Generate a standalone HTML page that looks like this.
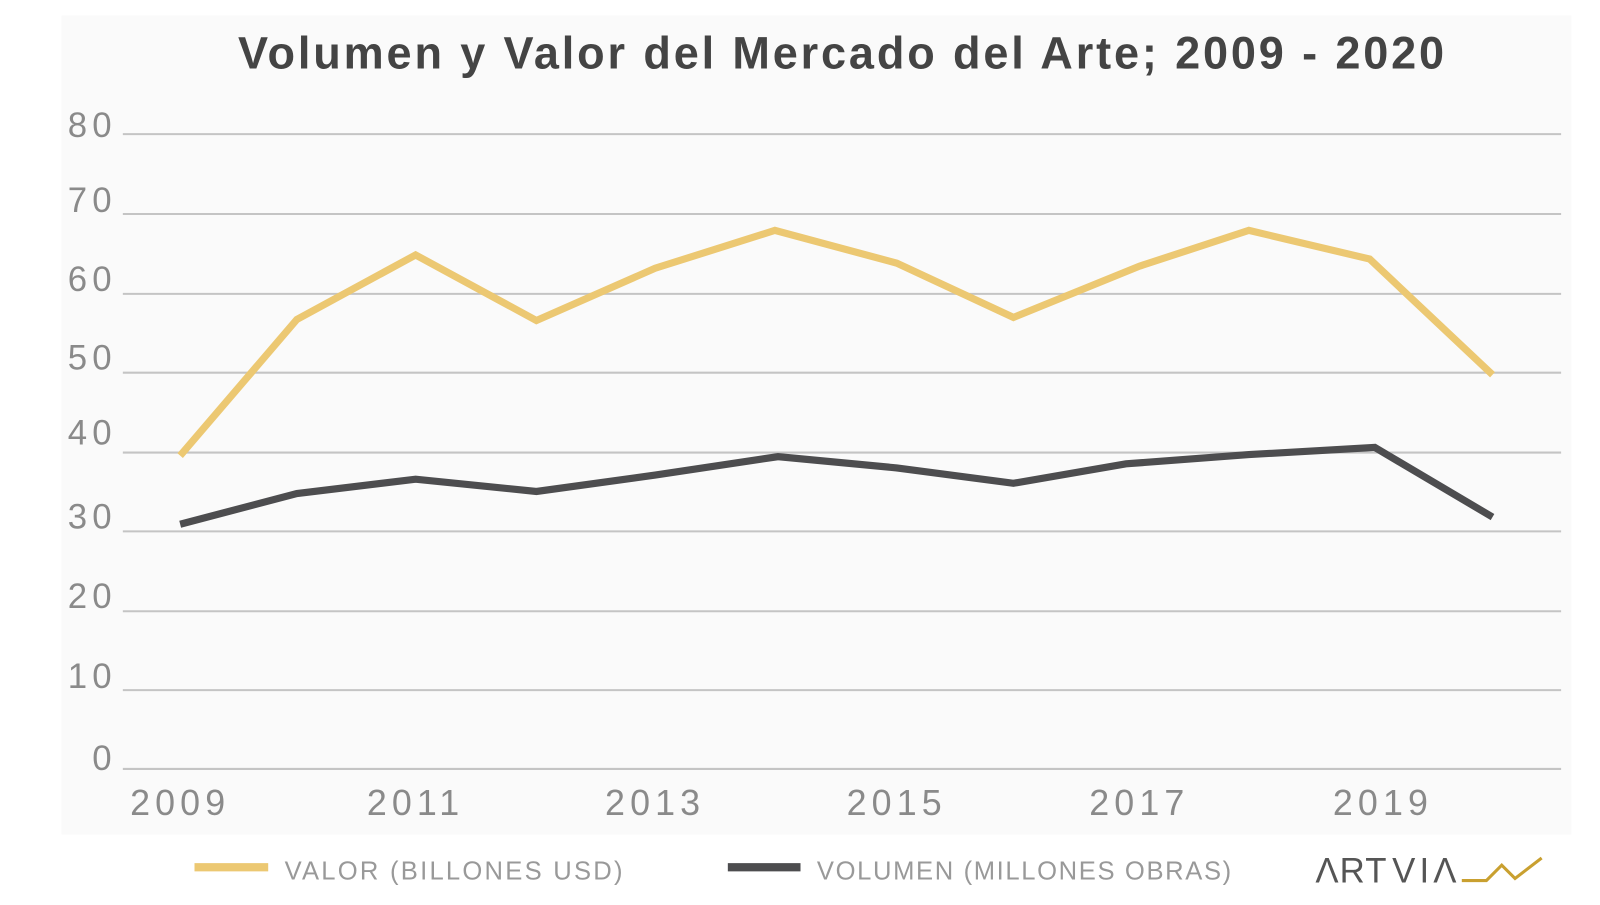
<!DOCTYPE html>
<html><head><meta charset="utf-8"><style>
html,body{margin:0;padding:0;background:#fff;}
</style></head><body>
<svg width="1600" height="900" viewBox="0 0 1563 879" preserveAspectRatio="none" xmlns="http://www.w3.org/2000/svg" font-family="Liberation Sans, sans-serif">
<rect x="0" y="0" width="1563" height="879" fill="#fff"/>
<rect x="60" y="15" width="1475" height="800" fill="#fafafa"/>
<text x="823" y="67" text-anchor="middle" font-size="44" font-weight="bold" fill="#444" letter-spacing="2.8">Volumen y Valor del Mercado del Arte; 2009 - 2020</text>
<g stroke="#c4c4c4" stroke-width="2">
<line x1="120" y1="131" x2="1525" y2="131"/><line x1="120" y1="209" x2="1525" y2="209"/>
<line x1="120" y1="287" x2="1525" y2="287"/><line x1="120" y1="364" x2="1525" y2="364"/>
<line x1="120" y1="442" x2="1525" y2="442"/><line x1="120" y1="519" x2="1525" y2="519"/>
<line x1="120" y1="597" x2="1525" y2="597"/><line x1="120" y1="674" x2="1525" y2="674"/>
<line x1="120" y1="751" x2="1525" y2="751"/>
</g>
<g font-size="34" fill="#8a8a8a" text-anchor="end" letter-spacing="5">
<text x="114" y="134">80</text><text x="114" y="207">70</text><text x="114" y="284">60</text>
<text x="114" y="361">50</text><text x="114" y="434">40</text><text x="114" y="516">30</text>
<text x="114" y="594">20</text><text x="114" y="672">10</text><text x="114" y="752">0</text>
</g>
<g font-size="35" fill="#8a8a8a" text-anchor="middle" letter-spacing="5">
<text x="176" y="796">2009</text><text x="406" y="796">2011</text><text x="640" y="796">2013</text>
<text x="876" y="796">2015</text><text x="1113" y="796">2017</text><text x="1351" y="796">2019</text>
</g>
<polyline fill="none" stroke="#ecc872" stroke-width="7" points="176,445 290,312 406,249 524,313 640,262 757,225 876,257 990,310 1113,260 1220,225 1338,253 1458,366"/>
<polyline fill="none" stroke="#4d4d4f" stroke-width="7" points="176,512 290,482 406,468 524,480 640,464 760,446 876,457 990,472 1100,453 1220,444 1343,437 1458,505"/>
<line x1="190" y1="847" x2="262" y2="847" stroke="#ecc872" stroke-width="8"/>
<text x="278" y="859" font-size="25" fill="#999" letter-spacing="2.2">VALOR (BILLONES USD)</text>
<line x1="711" y1="847" x2="782" y2="847" stroke="#4d4d4f" stroke-width="8"/>
<text x="798" y="859" font-size="25" fill="#999" letter-spacing="1.6">VOLUMEN (MILLONES OBRAS)</text>
<text x="1285" y="862" font-size="34" fill="#555" letter-spacing="1">ΛRT</text>
<text x="1360" y="862" font-size="34" fill="#555" letter-spacing="4">VIΛ</text>
<polyline fill="none" stroke="#c9a030" stroke-width="3" points="1428,860 1452,860 1467,845 1480,858 1506,838"/>
</svg>
</body></html>
